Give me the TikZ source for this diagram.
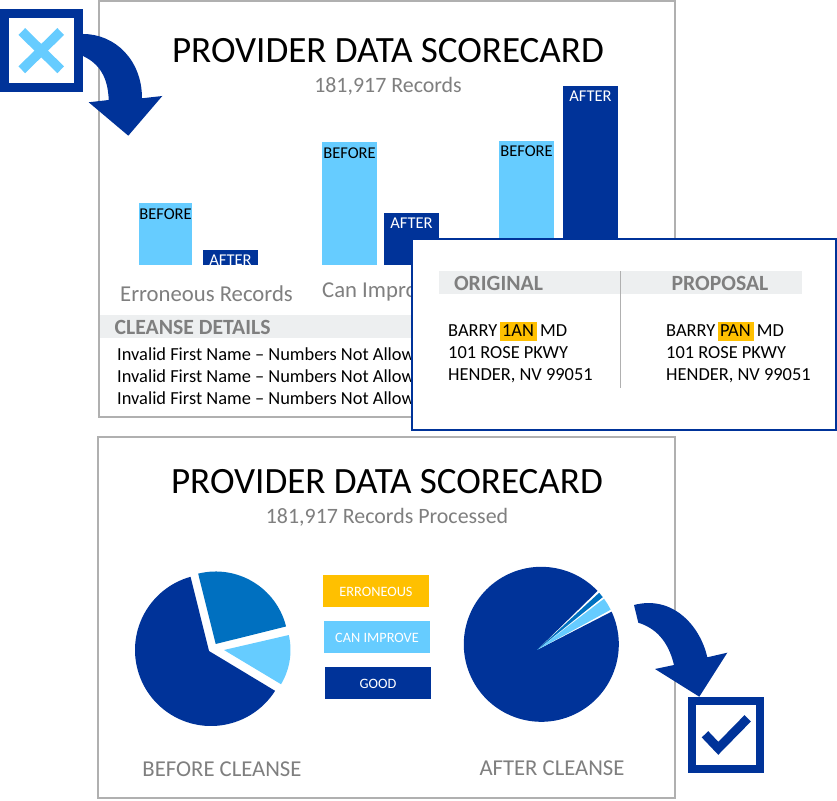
\documentclass[tikz,border=0pt]{standalone}
\usepackage{fontspec}
\setmainfont{Carlito}
\usetikzlibrary{calc,positioning}

\definecolor{navy}{HTML}{003399}
\definecolor{sky}{HTML}{66CCFF}
\definecolor{midblue}{HTML}{0070C0}
\definecolor{amber}{HTML}{FFC000}
\definecolor{band}{HTML}{EDEFF0}
\definecolor{framegray}{HTML}{B0B0B0}
\definecolor{labelgray}{HTML}{7F7F7F}

\newcommand{\fsize}[1]{\fontsize{#1}{#1}\selectfont}
\newcommand{\hlbox}[1]{\hspace{-1.5pt}{\setlength{\fboxsep}{0pt}\colorbox{amber}{\hspace{2pt}\rule[-4.5pt]{0pt}{19pt}#1\hspace{3pt}}}\hspace{-1pt}}

\tikzset{
  frame/.style={draw=framegray, line width=2.5pt, fill=white, inner sep=0pt},
  barbox/.style={anchor=south, inner sep=0pt, minimum width=55pt},
  bandbox/.style={fill=band, inner sep=0pt, minimum height=23pt},
  legendbox/.style={inner sep=0pt, minimum width=106pt, minimum height=32pt, text=white, text height=11.5pt, font=\fsize{14.3}},
  iconbox/.style={draw=navy, fill=white, inner sep=0pt},
  barlabel/.style={inner sep=0pt, font=\fsize{16.5}},
  title/.style={inner sep=0pt, font=\fsize{37.1}},
  sublabel/.style={inner sep=0pt, text=labelgray, font=\fsize{22.7}},
  headlabel/.style={inner sep=0pt, text=labelgray, font=\bfseries\fsize{21.7}},
  details/.style={inner sep=0pt, align=left, anchor=west, font=\fontsize{18.4}{22}\selectfont},
}

\begin{document}
\begin{tikzpicture}[x=1pt, y=1pt]
\useasboundingbox (0,0) rectangle (837,800);

% top card
\node(Top)[frame, minimum width=576pt, minimum height=416pt] at (387,591) {};
\node(TopT)[title] at (388,749) {PROVIDER DATA SCORECARD};
\node(TopS)[sublabel, font=\fsize{21.9}] at (388,714) {181,917 Records};

\node(BarA1)[barbox, fill=sky, minimum width=53pt, minimum height=62pt] at (165.5,535) {};
\node(BarA2)[barbox, fill=navy, minimum height=15pt] at (230.5,535) {};
\node(BarB1)[barbox, fill=sky, minimum height=123pt] at (349.5,535) {};
\node(BarB2)[barbox, fill=navy, minimum height=52pt] at (411.5,535) {};
\node(BarC1)[barbox, fill=sky, minimum height=124pt] at (526.5,535) {};
\node(BarC2)[barbox, fill=navy, minimum height=179pt] at (590.5,535) {};

\node(LabA1)[barlabel] at ($(BarA1.north)+(0,-11.5)$) {BEFORE};
\node(LabA2)[barlabel, text=white] at ($(BarA2.north)+(0,-11)$) {AFTER};
\node(LabB1)[barlabel] at ($(BarB1.north)+(0,-11.5)$) {BEFORE};
\node(LabB2)[barlabel, text=white] at ($(BarB2.north)+(0,-11)$) {AFTER};
\node(LabC1)[barlabel] at ($(BarC1.north)+(0,-10.5)$) {BEFORE};
\node(LabC2)[barlabel, text=white] at ($(BarC2.north)+(0,-11)$) {AFTER};

\node(CapA)[sublabel] at (206.5,506) {Erroneous Records};
\node(CapB)[sublabel, anchor=west] at (322,508) {Can Improve};

\node(Cleanse)[bandbox, minimum width=312pt] at (256,473) {};
\node(CleanseT)[headlabel, anchor=west] at (114.5,472.5) {CLEANSE DETAILS};
\node(Lines)[details] at (117,423.5) {Invalid First Name -- Numbers Not Allowed\\Invalid First Name -- Numbers Not Allowed\\Invalid First Name -- Numbers Not Allowed};

% proposal panel
\node(Panel)[draw=navy, fill=white, line width=2pt, inner sep=0pt, minimum width=424pt, minimum height=191pt] at (624,465.5) {};
\node(Head)[bandbox, minimum width=363pt] at (620.5,517) {};
\node(HeadL)[headlabel] at (498.5,516.5) {ORIGINAL};
\node(HeadR)[headlabel] at (720,516.5) {PROPOSAL};
\coordinate(DivEnd) at (620.5,412);
\draw[framegray, line width=0.8pt] (Head.north) -- (DivEnd);
\node(AddrL)[details] at (448,447.5) {BARRY \hlbox{1AN} MD\\101 ROSE PKWY\\HENDER, NV 99051};
\node(AddrR)[details] at (666,447.5) {BARRY \hlbox{PAN} MD\\101 ROSE PKWY\\HENDER, NV 99051};

% bottom card
\node(Low)[frame, minimum width=577pt, minimum height=361pt] at (386.5,182.5) {};
\node(LowT)[title] at (387,318) {PROVIDER DATA SCORECARD};
\node(LowS)[sublabel, font=\fsize{21.9}] at (387,283) {181,917 Records Processed};

% pie before
\coordinate(PieA) at (209,149);
\coordinate(PieAc) at (211,150);
\coordinate(PieAb) at (215.7,156);
\coordinate(PieAl) at (224,150);
\fill[navy] (PieA) -- ($(PieAc)+(105.6:76)$) arc[start angle=105.6, end angle=327.5, radius=76] -- cycle;
\fill[midblue] (PieAb) -- ($(PieAb)+(104:72.5)$) arc[start angle=104, end angle=14, radius=72.5] -- cycle;
\fill[sky] (PieAl) -- ($(PieAl)+(13:66.5)$) arc[start angle=13, end angle=-31, radius=66.5] -- cycle;

\node(LegE)[legendbox, fill=amber] at (376,209) {ERRONEOUS};
\node(LegC)[legendbox, fill=sky] at (377,163) {CAN IMPROVE};
\node(LegG)[legendbox, fill=navy] at (378,117) {GOOD};

% pie after
\coordinate(PieB) at (537,150);
\coordinate(PieBc) at (541.3,155.7);
\fill[navy] (PieB) -- ($(PieBc)+(24.9:77.5)$) arc[start angle=24.9, end angle=-316.5, radius=77.5] -- cycle;
\fill[sky] (PieB) -- ($(PieBc)+(26.5:77.5)$) arc[start angle=26.5, end angle=36, radius=77.5] -- cycle;
\fill[midblue] (PieB) -- ($(PieBc)+(37.5:77.5)$) arc[start angle=37.5, end angle=41.7, radius=77.5] -- cycle;

\node(CapL)[sublabel] at (222,30.5) {BEFORE CLEANSE};
\node(CapR)[sublabel] at (552,31.5) {AFTER CLEANSE};

% icons and arrows
\node(XBox)[iconbox, line width=9pt, minimum size=74pt] at (41.5,749.5) {};
\draw[sky, line width=9.5pt] ($(XBox.center)+(-19.7,19)$) -- ($(XBox.center)+(19.2,-19.3)$);
\draw[sky, line width=9.5pt] ($(XBox.center)+(19.2,19)$) -- ($(XBox.center)+(-19.7,-19.3)$);
\coordinate(XTip) at (128.3,664.3);
\fill[navy] ($(XBox.east)+(0,16.5)$) .. controls (115,766) and (142,740) .. (142,701.7)
  -- (162.3,704) -- (XTip) -- (88.7,697.7) -- (108.7,700)
  .. controls (108,722) and (100,736) .. ($(XBox.east)+(0,-5.5)$) -- cycle;

\node(VBox)[iconbox, line width=8pt, minimum size=68pt] at (726,64.6) {};
\draw[navy, line width=9pt] ($(VBox.center)+(-21,1.1)$) -- ($(VBox.center)+(-7.7,-12.9)$) -- ($(VBox.center)+(21.7,17.1)$);
\coordinate(VStart) at (634,195);
\coordinate(VTip) at (699.3,103.3);
\fill[navy] (VStart) .. controls (672,205) and (700,175) .. (707.3,142.7)
  -- (727.3,147.3) -- (VTip) -- (655,131) -- (674,135)
  .. controls (668,160) and (655,172) .. (638.3,177.3) -- cycle;
\end{tikzpicture}
\end{document}
